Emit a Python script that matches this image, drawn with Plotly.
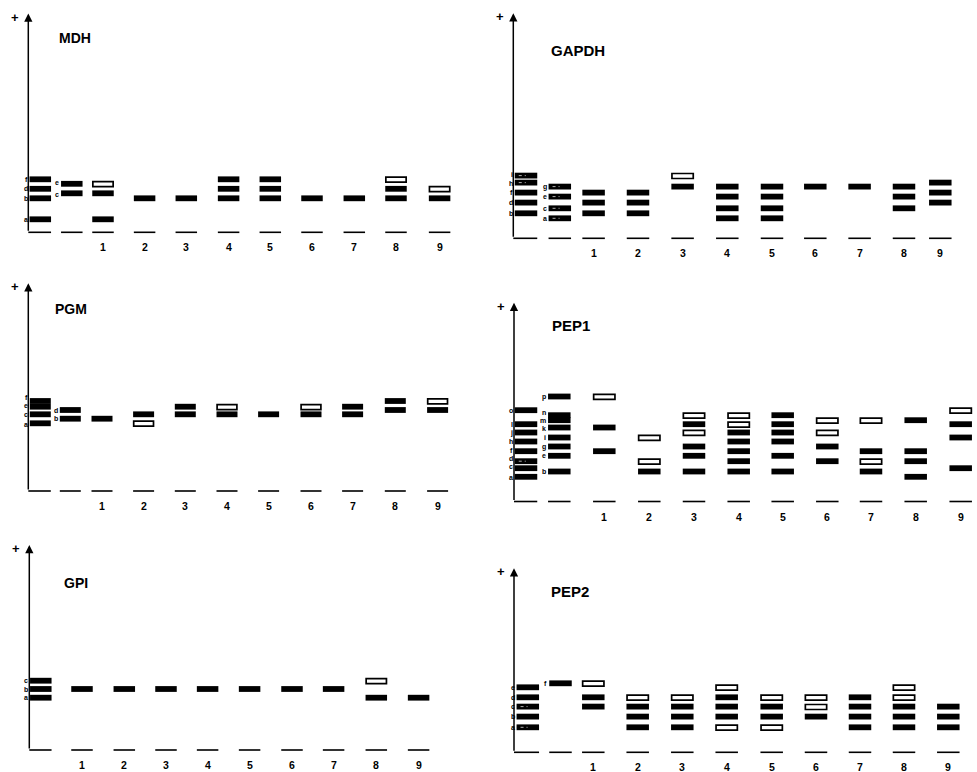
import plotly.graph_objects as go

# ====================== DATA ======================
# Relative mobility of each allozyme band (distance from origin, arbitrary units)
# Lane entries: band letters; a trailing "*" marks a weakly stained (open) band.
LANE_LABELS = ["1", "2", "3", "4", "5", "6", "7", "8", "9"]

MDH_mobility = {"a": 13, "b": 34, "c": 39, "d": 43.5, "e": 48.5, "f": 53}
MDH_refA = ["f", "d", "b", "a"]
MDH_refB = ["e", "c"]
MDH_lanes = [["e*", "c", "a"], ["b"], ["b"], ["f", "d", "b"], ["f", "d", "b"],
             ["b"], ["b"], ["f*", "d", "b"], ["d*", "b"]]

GAPDH_mobility = {"a": 20, "b": 25, "c": 30, "d": 35.7, "e": 41.7, "f": 45.7,
                  "g": 51.7, "h": 55.7, "i": 62.7}
GAPDH_refA = ["i", "h", "f", "d", "b"]
GAPDH_refB = ["g", "e", "c", "a"]
GAPDH_lanes = [["f", "d", "b"], ["f", "d", "b"], ["i*", "g"], ["g", "e", "c", "a"],
               ["g", "e", "c", "a"], ["g"], ["g"], ["g", "e", "c"], ["h", "f", "d"]]

PGM_mobility = {"a": 67.7, "b": 72.3, "c": 76.7, "d": 81, "e": 84.3, "f": 90}
PGM_refA = ["f", "e", "c", "a"]
PGM_refB = ["d", "b"]
PGM_lanes = [["b"], ["c", "a*"], ["e", "c"], ["e*", "c"], ["c"], ["e*", "c"],
             ["e", "c"], ["f", "d"], ["f*", "d"]]

PEP1_mobility = {"a": 24.7, "b": 30, "c": 33.3, "d": 40.3, "e": 45.7, "f": 50.3,
                 "g": 55, "h": 60, "i": 64, "j": 69, "k": 74, "l": 77.3,
                 "m": 81.3, "n": 86.3, "o": 91.3, "p": 105}
PEP1_refA = ["o", "l", "j", "h", "f", "d", "c", "a"]
PEP1_refB = ["p", "n", "m", "k", "i", "g", "e", "b"]
PEP1_lanes = [["p*", "k", "f"], ["i*", "d*", "b"], ["n*", "l", "j*", "g", "e", "b"],
              ["n*", "l*", "j", "h", "f", "d", "b"], ["n", "l", "j", "h", "e", "b"],
              ["m*", "j*", "g", "d"], ["m*", "f", "d*", "b"], ["m", "f", "d", "a"],
              ["o*", "l", "i", "c"]]

GPI_mobility = {"a": 52.3, "b": 61, "c": 69.3}
GPI_refA = ["c", "b", "a"]
GPI_refB = []
GPI_lanes = [["b"], ["b"], ["b"], ["b"], ["b"], ["b"], ["b"], ["c*", "a"], ["a"]]

PEP2_mobility = {"a": 25, "b": 35.7, "c": 45.7, "d": 55, "e": 65, "f": 69}
PEP2_refA = ["e", "d", "c", "b", "a"]
PEP2_refB = ["f"]
PEP2_lanes = [["f*", "d", "c"], ["d*", "c", "b", "a"], ["d*", "c", "b", "a"],
              ["e*", "d", "c", "b", "a*"], ["d*", "c", "b", "a*"], ["d*", "c*", "b"],
              ["d", "c", "b", "a"], ["e*", "d*", "c", "b", "a"], ["c", "b", "a"]]

ENZYMES = [
    ("MDH", MDH_mobility, MDH_refA, MDH_refB, MDH_lanes),
    ("GAPDH", GAPDH_mobility, GAPDH_refA, GAPDH_refB, GAPDH_lanes),
    ("PGM", PGM_mobility, PGM_refA, PGM_refB, PGM_lanes),
    ("PEP1", PEP1_mobility, PEP1_refA, PEP1_refB, PEP1_lanes),
    ("GPI", GPI_mobility, GPI_refA, GPI_refB, GPI_lanes),
    ("PEP2", PEP2_mobility, PEP2_refA, PEP2_refB, PEP2_lanes),
]

# ====================== STYLE / LAYOUT (pixels) ======================
# Reference bands drawn with a speckled fill
STIPPLED = {"GAPDH": ["i", "h", "g", "e", "c", "a"], "PEP1": ["d"], "PEP2": ["c", "a"]}
# small vertical nudges of crowded band-letter labels (px)
LABEL_NUDGE = {("PGM", "f"): 4.0, ("PGM", "e"): 0.8, ("PGM", "c"): -0.5, ("PGM", "a"): -1.5,
               ("PEP1", "f"): 1.2, ("PEP1", "d"): 3.2, ("PEP1", "c"): 2.0, ("PEP1", "a"): -1.0,
               ("PEP1", "n"): 2.8, ("PEP1", "m"): -0.3, ("PEP1", "k"): -1.2,
               ("GAPDH", "i"): 1.0, ("GAPDH", "h"): -0.5,
               ("MDH", "e"): 1.0, ("MDH", "c"): -1.0}

FIG_W, FIG_H = 977, 772
PANEL_CFG = {
    "MDH":   dict(box=(0, 0, 485, 262), ax=28.3, base=232.3, tip=13.5,
                  refA=12.0, refB=43.5, bw=21.5, title_dx=28.5, title_fs=14, title_y=38.3,
                  lanes=[74.7, 116.3, 158, 200.3, 242, 283.7, 326, 367.7, 411.3]),
    "GAPDH": dict(box=(488, 0, 977, 265), ax=513.3, base=238.3, tip=13.3,
                  refA=12.7, refB=46.5, bw=22.5, title_dx=35.5, title_fs=15, title_y=50.0,
                  lanes=[80.3, 124.7, 169.3, 214, 258.7, 302, 346.3, 390.7, 427]),
    "PGM":   dict(box=(0, 262, 485, 522), ax=28.3, base=491.0, tip=283.3,
                  refA=12.0, refB=42.0, bw=21, title_dx=24.5, title_fs=14, title_y=309.3,
                  lanes=[73.7, 115.3, 157, 198.7, 240.3, 282.7, 324.3, 367, 409.3]),
    "PEP1":  dict(box=(488, 265, 977, 530), ax=514.0, base=501.5, tip=302.7,
                  refA=12.0, refB=45.3, bw=22.5, title_dx=35.5, title_fs=15, title_y=325.0,
                  lanes=[90.3, 135.3, 180, 224.7, 268.7, 313.3, 357, 401.7, 446.7]),
    "GPI":   dict(box=(0, 522, 485, 772), ax=29.3, base=750.0, tip=545.0,
                  refA=11.5, refB=None, bw=21.5, title_dx=33, title_fs=14, title_y=582.7,
                  lanes=[52.7, 95, 136.7, 178.3, 220.3, 262.7, 304.3, 347, 389.3]),
    "PEP2":  dict(box=(488, 530, 977, 772), ax=514.0, base=752.3, tip=568.3,
                  refA=13.8, refB=46.5, bw=22.5, title_dx=34.5, title_fs=15, title_y=591.7,
                  lanes=[79.3, 123.7, 168.3, 212.7, 257.7, 302, 346, 390, 434.3]),
}
BAND_H = 5.8
FONT = "Liberation Sans, Arial, Helvetica, sans-serif"

fig = go.Figure()
layout_axes = {}
annotations = []

for i, (name, mob, refA, refB, lanes) in enumerate(ENZYMES, start=1):
    cfg = PANEL_CFG[name]
    xr = "x" if i == 1 else f"x{i}"
    yr = "y" if i == 1 else f"y{i}"
    x0, y0, x1, y1 = cfg["box"]
    layout_axes["xaxis" if i == 1 else f"xaxis{i}"] = dict(
        domain=[x0 / FIG_W, x1 / FIG_W], range=[x0 - cfg["ax"], x1 - cfg["ax"]],
        visible=False, fixedrange=True, anchor=yr)
    layout_axes["yaxis" if i == 1 else f"yaxis{i}"] = dict(
        domain=[1 - y1 / FIG_H, 1 - y0 / FIG_H], range=[cfg["base"] - y1, cfg["base"] - y0],
        visible=False, fixedrange=True, anchor=xr)

    bw = cfg["bw"]
    solid_x, solid_b, open_x, open_b = [], [], [], []
    stip_x, stip_y = [], []

    def add_band(center, letter):
        m = mob[letter.rstrip("*")]
        if letter.endswith("*"):
            open_x.append(center); open_b.append(m - BAND_H / 2)
        else:
            solid_x.append(center); solid_b.append(m - BAND_H / 2)

    # reference lanes with letter labels
    for cx, refs in ((cfg["refA"], refA), (cfg["refB"], refB)):
        if cx is None:
            continue
        for L in refs:
            add_band(cx, L)
            annotations.append(dict(
                x=cx - bw / 2 - 1.0, y=mob[L] + LABEL_NUDGE.get((name, L), 0.0),
                xref=xr, yref=yr, text=f"<b>{L}</b>",
                showarrow=False, xanchor="right", yanchor="middle", borderpad=0,
                font=dict(size=7, family=FONT, color="black")))
            if L in STIPPLED.get(name, []):
                stip_x += [cx - bw / 2 + 4, cx - bw / 2 + 11, None]
                stip_y += [mob[L], mob[L], None]

    # sample lanes
    for cx, bands in zip(cfg["lanes"], lanes):
        for L in bands:
            add_band(cx, L)

    common = dict(xaxis=xr, yaxis=yr, showlegend=False, hoverinfo="skip")
    fig.add_trace(go.Bar(x=solid_x, base=solid_b, y=[BAND_H] * len(solid_x),
                         width=[bw] * len(solid_x),
                         marker=dict(color="black", line=dict(width=0)), **common))
    fig.add_trace(go.Bar(x=open_x, base=open_b, y=[BAND_H - 0.8] * len(open_x),
                         width=[bw - 1.2] * len(open_x),
                         marker=dict(color="white", line=dict(color="black", width=1.7)),
                         **common))
    if stip_x:
        fig.add_trace(go.Scatter(x=stip_x, y=stip_y, mode="lines",
                                 line=dict(color="#dddddd", width=0.8, dash="dot"), **common))

    # origin segments under each lane
    seg_x, seg_y = [0, cfg["refA"] + bw / 2, None], [0, 0, None]
    centers = ([cfg["refB"]] if cfg["refB"] is not None else []) + cfg["lanes"]
    for cx in centers:
        seg_x += [cx - bw / 2, cx + bw / 2, None]
        seg_y += [0, 0, None]
    fig.add_trace(go.Scatter(x=seg_x, y=seg_y, mode="lines",
                             line=dict(color="black", width=1.6), cliponaxis=False, **common))

    top = cfg["base"] - cfg["tip"]
    # vertical mobility axis with arrow
    annotations.append(dict(x=0, y=top, ax=0, ay=0, xref=xr, yref=yr, axref=xr, ayref=yr,
                            text="", showarrow=True, arrowhead=2, arrowsize=1.1,
                            arrowwidth=1.5, arrowcolor="black", standoff=0, startstandoff=0))
    # "+" pole sign
    annotations.append(dict(x=-13.5, y=top - 3.5, xref=xr, yref=yr, text="<b>+</b>",
                            showarrow=False, font=dict(size=13, family=FONT, color="black")))
    # enzyme title
    annotations.append(dict(x=cfg["title_dx"], y=cfg["base"] - cfg["title_y"], xref=xr, yref=yr,
                            text=f"<b>{name}</b>", showarrow=False, xanchor="left",
                            yanchor="middle",
                            font=dict(size=cfg["title_fs"], family=FONT, color="black")))
    # lane numbers
    for cx, lab in zip(cfg["lanes"], LANE_LABELS):
        annotations.append(dict(x=cx, y=-15, xref=xr, yref=yr, text=f"<b>{lab}</b>",
                                showarrow=False, xanchor="center", yanchor="middle",
                                font=dict(size=10.5, family=FONT, color="black")))

fig.update_layout(
    width=FIG_W, height=FIG_H, margin=dict(l=0, r=0, t=0, b=0),
    paper_bgcolor="white", plot_bgcolor="white", barmode="overlay",
    showlegend=False, annotations=annotations, **layout_axes)

fig.write_html("out.html", config={"displayModeBar": False})
